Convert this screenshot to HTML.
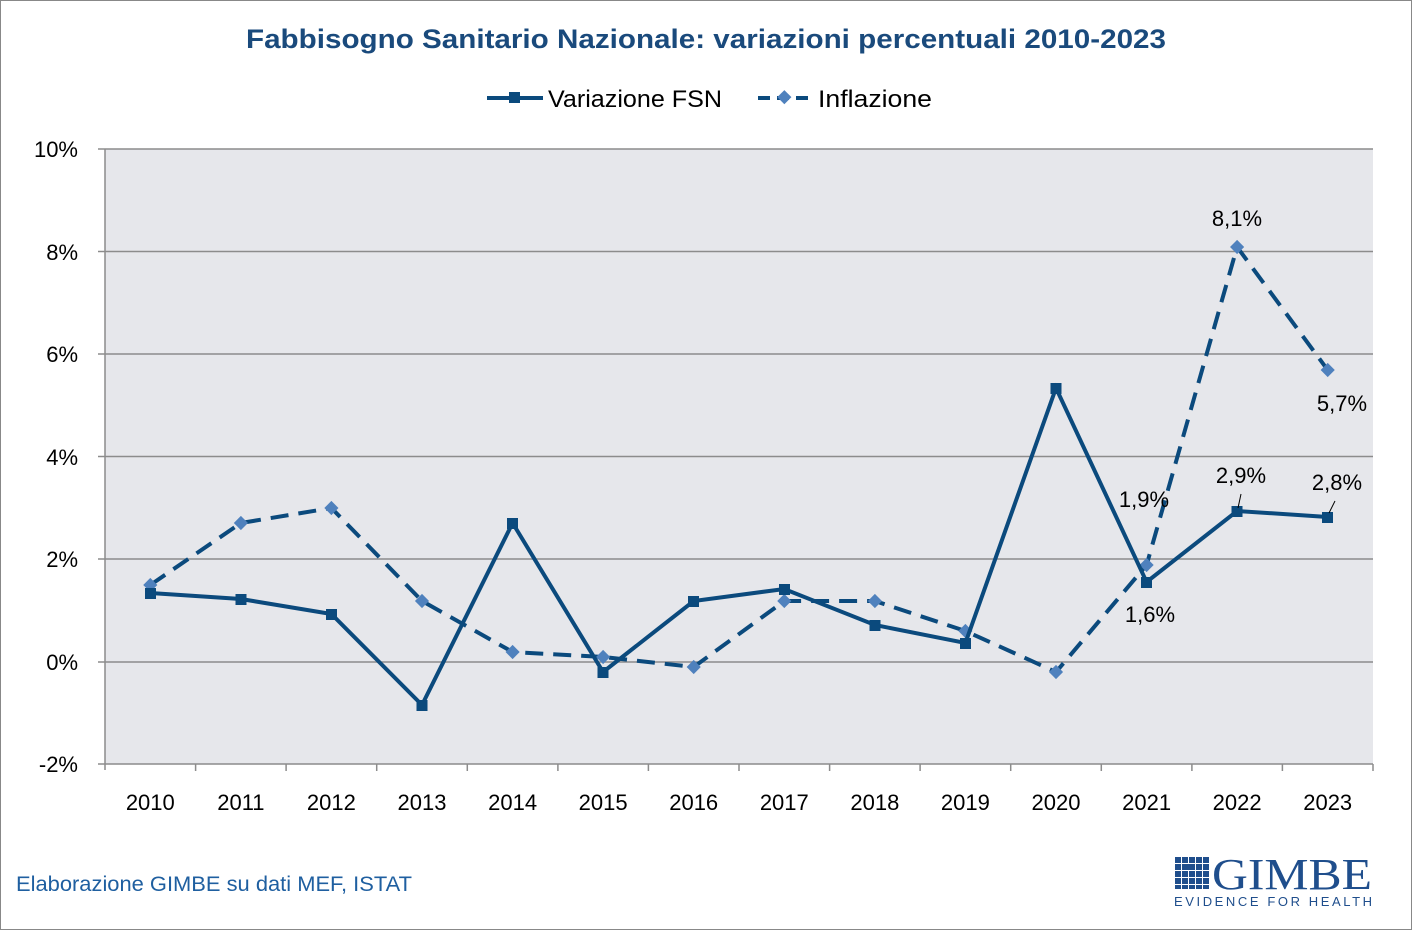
<!DOCTYPE html>
<html><head><meta charset="utf-8"><style>
html,body{margin:0;padding:0;background:#fff;}
svg{display:block;font-family:"Liberation Sans","DejaVu Sans",sans-serif;}
</style></head><body>
<svg width="1412" height="930" viewBox="0 0 1412 930" xmlns="http://www.w3.org/2000/svg">
<rect x="0.5" y="0.5" width="1411" height="929" fill="#fff" stroke="#888"/>
<text x="246" y="48" font-size="27" font-weight="bold" fill="#1a4a7c" textLength="920" lengthAdjust="spacingAndGlyphs">Fabbisogno Sanitario Nazionale: variazioni percentuali 2010-2023</text>
<!-- legend -->
<line x1="487" y1="98" x2="543" y2="98" stroke="#0b4a7d" stroke-width="4"/>
<rect x="509" y="92" width="11" height="11" fill="#0b4a7d"/>
<text x="548" y="107" font-size="24" fill="#000" textLength="174" lengthAdjust="spacingAndGlyphs">Variazione FSN</text>
<line x1="758" y1="98" x2="814" y2="98" stroke="#0b4a7d" stroke-width="4" stroke-dasharray="12,7"/>
<rect x="779" y="92" width="10" height="10" fill="#4f81bd" transform="rotate(45 784 97.5)"/>
<text x="818" y="107" font-size="24" fill="#000" textLength="114" lengthAdjust="spacingAndGlyphs">Inflazione</text>
<!-- plot -->
<rect x="105" y="149" width="1268" height="615" fill="#e6e7eb"/>
<g stroke="#8c8c8c" stroke-width="1.5">
<line x1="105" y1="149" x2="1373" y2="149"/>
<line x1="105" y1="251.5" x2="1373" y2="251.5"/>
<line x1="105" y1="354" x2="1373" y2="354"/>
<line x1="105" y1="456.5" x2="1373" y2="456.5"/>
<line x1="105" y1="559" x2="1373" y2="559"/>
<line x1="105" y1="662" x2="1373" y2="662"/>
<line x1="105" y1="764" x2="1373" y2="764"/>
<line x1="105" y1="149" x2="105" y2="770"/>
<line x1="98" y1="149" x2="105" y2="149"/><line x1="98" y1="251.5" x2="105" y2="251.5"/><line x1="98" y1="354" x2="105" y2="354"/><line x1="98" y1="456.5" x2="105" y2="456.5"/><line x1="98" y1="559" x2="105" y2="559"/><line x1="98" y1="662" x2="105" y2="662"/><line x1="98" y1="764" x2="105" y2="764"/>
<line x1="195.6" y1="764" x2="195.6" y2="771"/><line x1="286.1" y1="764" x2="286.1" y2="771"/><line x1="376.7" y1="764" x2="376.7" y2="771"/><line x1="467.3" y1="764" x2="467.3" y2="771"/><line x1="557.9" y1="764" x2="557.9" y2="771"/><line x1="648.4" y1="764" x2="648.4" y2="771"/><line x1="739" y1="764" x2="739" y2="771"/><line x1="829.6" y1="764" x2="829.6" y2="771"/><line x1="920.1" y1="764" x2="920.1" y2="771"/><line x1="1010.7" y1="764" x2="1010.7" y2="771"/><line x1="1101.3" y1="764" x2="1101.3" y2="771"/><line x1="1191.9" y1="764" x2="1191.9" y2="771"/><line x1="1282.4" y1="764" x2="1282.4" y2="771"/><line x1="1373" y1="764" x2="1373" y2="771"/>
</g>
<g font-size="22" fill="#000" text-anchor="end">
<text x="78" y="157">10%</text><text x="78" y="260">8%</text><text x="78" y="362">6%</text><text x="78" y="465">4%</text><text x="78" y="567">2%</text><text x="78" y="670">0%</text><text x="78" y="772">-2%</text>
</g>
<g font-size="22" fill="#000" text-anchor="middle">
<text x="150.3" y="810">2010</text><text x="240.9" y="810">2011</text><text x="331.4" y="810">2012</text><text x="422" y="810">2013</text><text x="512.6" y="810">2014</text><text x="603.1" y="810">2015</text><text x="693.7" y="810">2016</text><text x="784.3" y="810">2017</text><text x="874.9" y="810">2018</text><text x="965.4" y="810">2019</text><text x="1056" y="810">2020</text><text x="1146.6" y="810">2021</text><text x="1237.1" y="810">2022</text><text x="1327.7" y="810">2023</text>
</g>
<!-- inflation -->
<polyline fill="none" stroke="#0b4a7d" stroke-width="4" stroke-dasharray="18,10" points="150.3,585 240.9,523 331.4,508 422,601 512.6,652 603.1,657 693.7,667 784.3,601 874.9,601 965.4,631 1056,672 1146.6,565 1237.1,247 1327.7,370"/>
<g fill="#4f81bd">
<rect x="145.3" y="580" width="10" height="10" transform="rotate(45 150.3 585)"/>
<rect x="235.9" y="518" width="10" height="10" transform="rotate(45 240.9 523)"/>
<rect x="326.4" y="503" width="10" height="10" transform="rotate(45 331.4 508)"/>
<rect x="417" y="596" width="10" height="10" transform="rotate(45 422 601)"/>
<rect x="507.6" y="647" width="10" height="10" transform="rotate(45 512.6 652)"/>
<rect x="598.1" y="652" width="10" height="10" transform="rotate(45 603.1 657)"/>
<rect x="688.7" y="662" width="10" height="10" transform="rotate(45 693.7 667)"/>
<rect x="779.3" y="596" width="10" height="10" transform="rotate(45 784.3 601)"/>
<rect x="869.9" y="596" width="10" height="10" transform="rotate(45 874.9 601)"/>
<rect x="960.4" y="626" width="10" height="10" transform="rotate(45 965.4 631)"/>
<rect x="1051" y="667" width="10" height="10" transform="rotate(45 1056 672)"/>
<rect x="1141.6" y="560" width="10" height="10" transform="rotate(45 1146.6 565)"/>
<rect x="1232.1" y="242" width="10" height="10" transform="rotate(45 1237.1 247)"/>
<rect x="1322.7" y="365" width="10" height="10" transform="rotate(45 1327.7 370)"/>
</g>
<!-- FSN -->
<polyline fill="none" stroke="#0b4a7d" stroke-width="4" points="150.3,593 240.9,599 331.4,614 422,705 512.6,523 603.1,672 693.7,601 784.3,589 874.9,625 965.4,643 1056,388 1146.6,582 1237.1,511 1327.7,517"/>
<g fill="#0b4a7d">
<rect x="145" y="588" width="11" height="11"/><rect x="235.5" y="594" width="11" height="11"/><rect x="326" y="609" width="11" height="11"/><rect x="416.5" y="700" width="11" height="11"/><rect x="507" y="518" width="11" height="11"/><rect x="597.5" y="667" width="11" height="11"/><rect x="688" y="596" width="11" height="11"/><rect x="779" y="584" width="11" height="11"/><rect x="869.5" y="620" width="11" height="11"/><rect x="960" y="638" width="11" height="11"/><rect x="1050.5" y="383" width="11" height="11"/><rect x="1141" y="577" width="11" height="11"/><rect x="1231.5" y="506" width="11" height="11"/><rect x="1322" y="512" width="11" height="11"/>
</g>
<!-- labels -->
<g font-size="22" fill="#000" text-anchor="middle">
<text x="1237" y="226">8,1%</text>
<text x="1342" y="411">5,7%</text>
<text x="1144" y="507">1,9%</text>
<text x="1150" y="622">1,6%</text>
<text x="1241" y="483">2,9%</text>
<text x="1337" y="490">2,8%</text>
</g>
<line x1="1241" y1="494" x2="1238" y2="508" stroke="#000" stroke-width="1"/>
<line x1="1335" y1="501" x2="1329" y2="513" stroke="#000" stroke-width="1"/>
<text x="16" y="891" font-size="21" fill="#1f5fa0" textLength="396" lengthAdjust="spacingAndGlyphs">Elaborazione GIMBE su dati MEF, ISTAT</text>
<!-- logo -->
<g fill="#1f4e8c">
<rect x="1175" y="857" width="6" height="6"/><rect x="1182" y="857" width="6" height="6"/><rect x="1189" y="857" width="6" height="6"/><rect x="1196" y="857" width="6" height="6"/><rect x="1203" y="857" width="6" height="6"/>
<rect x="1175" y="864" width="6" height="6"/><rect x="1182" y="864" width="13" height="6"/><rect x="1196" y="864" width="6" height="6"/><rect x="1203" y="864" width="6" height="6"/>
<rect x="1175" y="871" width="6" height="6"/><rect x="1182" y="871" width="6" height="6"/><rect x="1189" y="871" width="6" height="6"/><rect x="1196" y="871" width="6" height="6"/><rect x="1203" y="871" width="6" height="6"/>
<rect x="1175" y="878" width="6" height="6"/><rect x="1182" y="878" width="6" height="6"/><rect x="1189" y="878" width="6" height="6"/><rect x="1196" y="878" width="6" height="6"/><rect x="1203" y="878" width="6" height="6"/>
<rect x="1175" y="885" width="6" height="4"/><rect x="1182" y="885" width="6" height="4"/><rect x="1189" y="885" width="6" height="4"/><rect x="1196" y="885" width="6" height="4"/><rect x="1203" y="885" width="6" height="4"/>
</g>
<text x="1212" y="889" font-size="44" fill="#1f4e8c" font-family="Liberation Serif, serif" textLength="160" lengthAdjust="spacingAndGlyphs">GIMBE</text>
<text x="1174" y="906" font-size="13" fill="#1f4e8c" textLength="198" lengthAdjust="spacing">EVIDENCE FOR HEALTH</text>
</svg>
</body></html>
